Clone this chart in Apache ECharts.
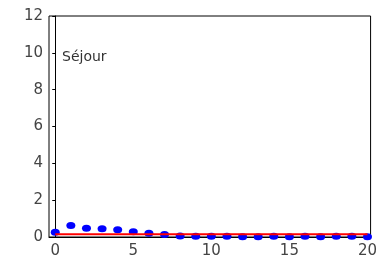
<!DOCTYPE html>
<html>
<head>
<meta charset="utf-8">
<script src="https://cdn.jsdelivr.net/npm/echarts@6/dist/echarts.min.js"></script>
<style>
  html, body { margin: 0; padding: 0; background: #fff; }
  #main { width: 380px; height: 260px; }
</style>
</head>
<body>
<div id="main"></div>
<script>
var lags = [0, 1, 2, 3, 4, 5, 6, 7, 8, 9, 10, 11, 12, 13, 14, 15, 16, 17, 18, 19, 20];
var values = [0.26, 0.62, 0.47, 0.45, 0.39, 0.28, 0.2, 0.13, 0.06, 0.04, 0.04, 0.04, 0.01, 0.01, 0.04, 0.01, 0.04, 0.01, 0.04, 0.04, 0.02];
var refLevel = 0.15;
var xTicks = [0, 5, 10, 15, 20];

var dom = document.getElementById('main');
var myChart = echarts.init(dom);

var points = [];
for (var i = 0; i < lags.length; i++) {
    points.push([lags[i], values[i]]);
}

option = {
    animation: false,
    title: {
        text: 'Séjour',
        left: 57,
        top: 45,
        textStyle: { fontSize: 14, fontWeight: 'normal', color: '#333', fontFamily: 'DejaVu Sans' }
    },
    grid: {
        left: 49, right: 4, top: 16, bottom: 23,
        show: true, borderColor: '#000', borderWidth: 1
    },
    xAxis: {
        type: 'value',
        min: -0.4,
        max: 20.2,
        splitLine: { show: false },
        axisLine: { show: true, lineStyle: { color: '#000' } },
        axisTick: { show: false },
        axisLabel: {
            customValues: xTicks,
            fontSize: 15, color: '#444', fontFamily: 'DejaVu Sans', margin: 7
        }
    },
    yAxis: {
        type: 'value',
        min: 0,
        max: 12,
        interval: 2,
        splitLine: { show: false },
        axisLine: { show: true, lineStyle: { color: '#000' } },
        axisTick: { show: true, length: 3, lineStyle: { color: '#000' } },
        axisLabel: { fontSize: 15, color: '#444', fontFamily: 'DejaVu Sans', margin: 6 }
    },
    series: [
        {
            type: 'scatter',
            data: points,
            symbol: 'circle',
            symbolSize: [9, 7],
            itemStyle: { color: '#0000ff', opacity: 1 },
            z: 2
        },
        {
            type: 'line',
            data: [[0, refLevel], [20, refLevel]],
            showSymbol: false,
            lineStyle: { color: '#ff0000', width: 2 },
            z: 3
        }
    ]
};
myChart.setOption(option);
</script>
</body>
</html>
